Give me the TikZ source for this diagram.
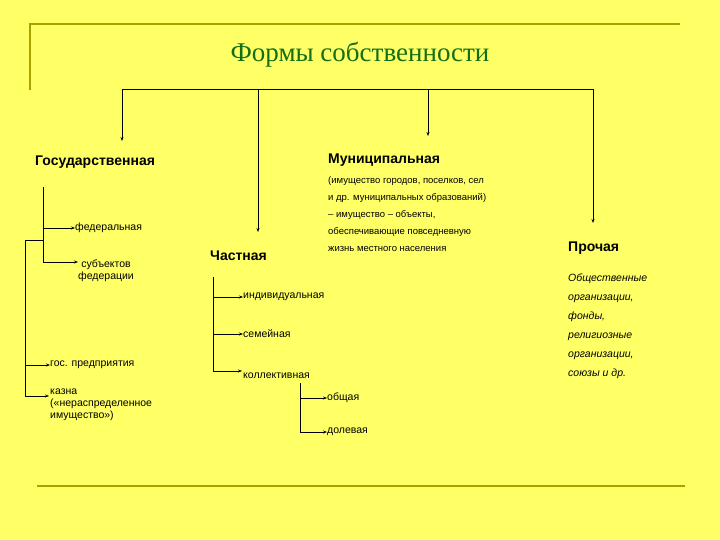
\documentclass[tikz,border=0pt]{standalone}
\usepackage{fontspec}
\usetikzlibrary{arrows.meta}
\setmainfont{Liberation Sans}
\newfontfamily\titlefont{Liberation Serif}
\definecolor{bgy}{RGB}{255,255,102}
\definecolor{olv}{RGB}{170,160,0}
\definecolor{ttl}{RGB}{20,110,20}
\begin{document}
\begin{tikzpicture}[x=1pt,y=-1pt,
  arr/.style={-{Stealth[length=4pt,width=3pt]},line width=0.8pt},
  ln/.style={line width=0.8pt},
  head/.style={font=\fontsize{14}{16}\selectfont\bfseries,anchor=west,inner sep=0},
  item/.style={font=\fontsize{10.5}{12}\selectfont,anchor=west,inner sep=0,align=left},
  rule/.style={color=olv,line width=1.5pt}]
\fill[bgy] (0,0) rectangle (720,540);
\draw[rule] (30,90) -- (30,24) -- (680,24);
\draw[rule] (37,486) -- (685,486);
\node[font=\titlefont\fontsize{27}{30}\selectfont,text=ttl] (title) at (360,55) {Формы собственности};
\coordinate (b1) at (122,89); \coordinate (b4) at (593,89);
\draw[ln] (b1) -- (b4);
\node[head] (gos) at (35,162) {Государственная};
\node[head] (chas) at (210,256) {Частная};
\node[head] (mun) at (328,160) {Муниципальная};
\node[head] (pro) at (568,248) {Прочая};
\draw[arr] (b1) -- (122,141);
\draw[arr] (258,89) -- (258,232);
\draw[arr] (428,89) -- (428,136);
\draw[arr] (b4) -- (593,223);
\node[item,font=\fontsize{9.5}{17}\selectfont,anchor=north west] (mtext) at (328,176) {(имущество городов, поселков, сел\\и др. муниципальных образований)\\– имущество – объекты,\\обеспечивающие повседневную\\жизнь местного населения};
\node[item,font=\fontsize{10.5}{19}\selectfont\itshape,anchor=north west] (ptext) at (568,274) {Общественные\\организации,\\фонды,\\религиозные\\организации,\\союзы и др.};
% state
\node[item] (fed) at (75,228) {федеральная};
\node[item,align=center] (sub) at (78,271) {субъектов\\федерации};
\draw[ln] (43,187) -- (43,262);
\draw[arr] (43,228) -- (fed.west);
\draw[arr] (43,262) -- (sub.west|-43,262);
\node[item] (gp) at (50,365) {гос. предприятия};
\node[item,anchor=north west] (kaz) at (50,389) {казна\\(«нераспределенное\\имущество»)};
\draw[ln] (25,240) -- (43,240);
\draw[ln] (25,240) -- (25,396);
\draw[arr] (25,365) -- (gp.west);
\draw[arr] (25,396) -- (49,396);
% private
\node[item] (ind) at (243,297) {индивидуальная};
\node[item] (sem) at (243,334) {семейная};
\node[item] (kol) at (243,376) {коллективная};
\draw[ln] (213,277) -- (213,371);
\draw[arr] (213,297) -- (ind.west);
\draw[arr] (213,334) -- (sem.west);
\draw[arr] (213,371) -- (242,371);
\node[item] (ob) at (327,398) {общая};
\node[item] (dol) at (327,432) {долевая};
\draw[ln] (300,383) -- (300,432);
\draw[arr] (300,398) -- (ob.west);
\draw[arr] (300,432) -- (dol.west);
\end{tikzpicture}
\end{document}
